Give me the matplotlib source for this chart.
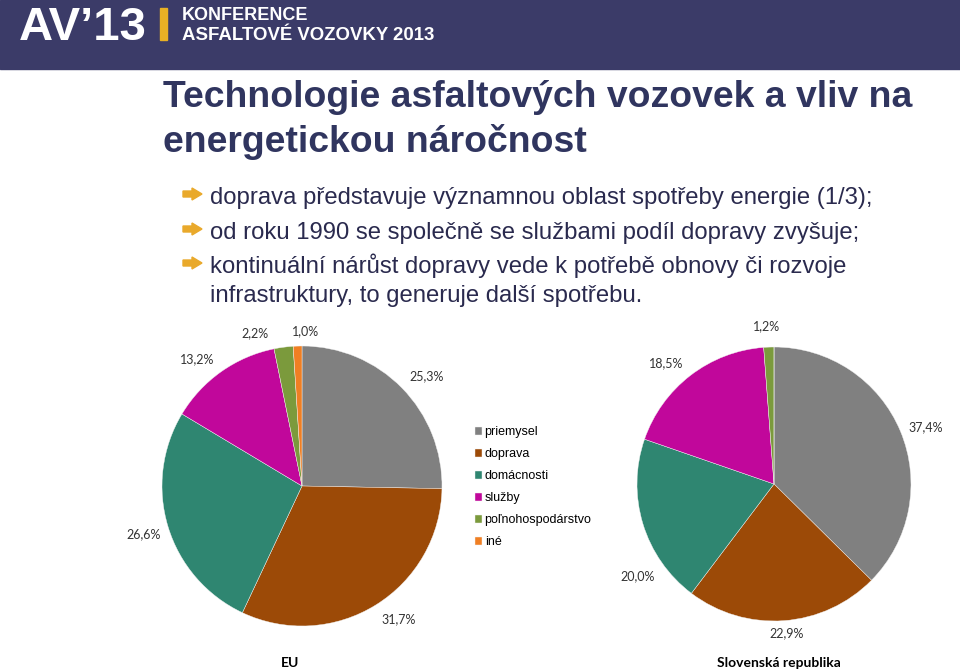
import numpy as np
import matplotlib.pyplot as plt
from matplotlib.patches import Rectangle, Polygon

# data
kategorie = ["priemysel", "doprava", "domácnosti", "služby", "poľnohospodárstvo", "iné"]
eu = [25.3, 31.7, 26.6, 13.2, 2.2, 1.0]
sk = [37.4, 22.9, 20.0, 18.5, 1.2, 0.0]
farby = ["#808080", "#9C4A07", "#2F8671", "#C1079B", "#7B9A3C", "#F07F23"]

nadpis = ["Technologie asfaltových vozovek a vliv na", "energetickou náročnost"]
body = [
    ["doprava představuje významnou oblast spotřeby energie (1/3);"],
    ["od roku 1990 se společně se službami podíl dopravy zvyšuje;"],
    ["kontinuální nárůst dopravy vede k potřebě obnovy či rozvoje",
     "infrastruktury, to generuje další spotřebu."],
]

# posuny popiskov (v polomeroch), aby sa neprekryvali
posun_eu = [(0.05, -0.04), (0.07, 0.05), (0.0, 0.0), (-0.07, -0.06), (-0.18, -0.08), (0.06, -0.07)]
posun_sk = [(0.02, -0.04), (0.01, 0.09), (0.13, -0.33), (-0.07, -0.05), (-0.01, -0.03), (0, 0)]

W, H = 960, 671
fig = plt.figure(figsize=(W / 100, H / 100), dpi=100)
fig.patch.set_facecolor("white")

def fx(x):
    return x / W

def fy(y):
    return 1 - y / H

# hlavicka
fig.patches.append(Rectangle((0, fy(69)), 1, 69 / H, transform=fig.transFigure,
                             color="#3B3B68", zorder=0))
fig.patches.append(Rectangle((fx(160), fy(40)), 7 / W, 32 / H, transform=fig.transFigure,
                             color="#E8B024", zorder=1))
hfont = "Liberation Sans"
fig.text(fx(19), fy(40), "AV\u201913", color="white", fontsize=34, fontweight="bold",
         family=hfont, va="baseline")
fig.text(fx(182), fy(20), "KONFERENCE", color="white",
         fontsize=13, fontweight="bold", family=hfont, va="baseline")
fig.text(fx(182), fy(40), "ASFALTOVÉ VOZOVKY 2013", color="white", fontsize=13.4,
         fontweight="bold", family=hfont, va="baseline")

# nadpis
for i, t in enumerate(nadpis):
    fig.text(fx(163), fy(107 + i * 45), t, color="#30355F", fontsize=26.9,
             fontweight="bold", family="Liberation Sans", va="baseline")

# odrazky
riadky_y = [[204], [239], [273, 302]]
for r, ys in zip(body, riadky_y):
    y0 = ys[0] - 10
    fig.patches.append(Polygon([(fx(183), fy(y0 - 3)), (fx(192), fy(y0 - 3)),
                                (fx(192), fy(y0 - 6)), (fx(202), fy(y0)),
                                (fx(192), fy(y0 + 6)), (fx(192), fy(y0 + 3)),
                                (fx(183), fy(y0 + 3))],
                               closed=True, transform=fig.transFigure,
                               color="#E9A92B", zorder=2))
    for t, y in zip(r, ys):
        fig.text(fx(210), fy(y), t, color="#2A2A4E", fontsize=17.2,
                 family="Liberation Sans", va="baseline")

def pct(p):
    return ("%.1f%%" % p).replace(".", ",")

def kolac(cx, cy, r, hodnoty, posuny, nazov, nx):
    ax = fig.add_axes([fx(cx - r), fy(cy + r), 2 * r / W, 2 * r / H])
    wedges, texts = ax.pie(hodnoty, colors=farby, startangle=90, counterclock=False,
                           wedgeprops=dict(linewidth=0.3, edgecolor="#f4f4f4"))
    for w, v, (dx, dy) in zip(wedges, hodnoty, posuny):
        if v <= 0:
            continue
        a = np.deg2rad((w.theta1 + w.theta2) / 2)
        ax.text(1.18 * np.cos(a) + dx, 1.18 * np.sin(a) + dy, pct(v), ha="center",
                va="center", fontsize=9, color="#333333", family="Lato")
    ax.set_xlim(-1, 1)
    ax.set_ylim(-1, 1)
    ax.set_aspect("equal")
    fig.text(fx(nx), fy(667), nazov, ha="center", va="baseline", fontsize=10,
             fontweight="bold", family="Lato", color="black")
    return wedges

wedges = kolac(302, 486, 140, eu, posun_eu, "EU", 290)
kolac(774, 484, 137, sk, posun_sk, "Slovenská republika", 779)

fig.legend(wedges, kategorie, loc="upper left", bbox_to_anchor=(fx(464), fy(415)),
           frameon=False, handlelength=0.55, handleheight=0.55, handletextpad=0.2,
           labelspacing=0.8, prop=dict(family="Liberation Sans", size=9))

fig.savefig("out.png", dpi=100)
